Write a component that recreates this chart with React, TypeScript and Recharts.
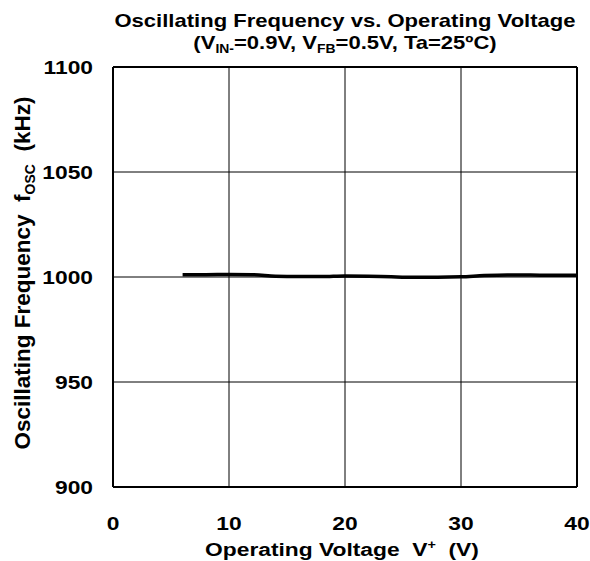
import { CartesianGrid, Line, LineChart, XAxis, YAxis } from "recharts";

const voltage = [6, 8, 10, 12, 14, 16, 18, 20, 22, 24, 26, 28, 30, 32, 34, 36, 38, 40];
const freq = [1001.1, 1001.1, 1001.2, 1001.1, 1000.4, 1000.2, 1000.2, 1000.5, 1000.4, 1000.1, 999.9, 999.9, 1000.1, 1000.7, 1001.0, 1000.9, 1000.8, 1000.8];
const xTicks = [0, 10, 20, 30, 40];
const yTicks = [900, 950, 1000, 1050, 1100];

const data = voltage.map((v, i) => ({ v, f: freq[i] }));

const font = "'Liberation Sans', Arial, sans-serif";
const SX = 1.2; // the reference text is stretched sideways
const FS = 19;
const SUB = 12;

const stretch = (x: number, y: number, s = SX) => `translate(${x} ${y}) scale(${s} 1)`;

const XTick = (props: any) => {
  const { x, y, payload } = props;
  return (
    <text transform={stretch(x, y + 35)} textAnchor="middle" fontSize={FS} fontWeight="bold" fontFamily={font} fill="#000">
      {payload.value}
    </text>
  );
};

const YTick = (props: any) => {
  const { y, payload } = props;
  return (
    <text transform={stretch(93, y + 7)} textAnchor="end" fontSize={FS} fontWeight="bold" fontFamily={font} fill="#000">
      {payload.value}
    </text>
  );
};

export default function App() {
  return (
    <div style={{ position: "absolute", left: 0, top: 0, width: 590, height: 561, background: "#fff", fontFamily: font }}>
      <LineChart width={590} height={561} data={data} margin={{ top: 67, right: 13, left: 0, bottom: 0 }}>
        <text transform={stretch(345, 27, 1.16)} textAnchor="middle" fontSize={FS} fontWeight="bold" fontFamily={font} fill="#000">
          Oscillating Frequency vs. Operating Voltage
        </text>
        <text transform={stretch(345, 49, 1.16)} textAnchor="middle" fontSize={FS} fontWeight="bold" fontFamily={font} fill="#000">
          <tspan>(V</tspan>
          <tspan fontSize={SUB} dy={4}>IN-</tspan>
          <tspan dy={-4}>=0.9V, V</tspan>
          <tspan fontSize={SUB} dy={4}>FB</tspan>
          <tspan dy={-4}>=0.5V, Ta=25ºC)</tspan>
        </text>
        <text transform={stretch(342, 556)} textAnchor="middle" fontSize={FS} fontWeight="bold" fontFamily={font} fill="#000">
          <tspan>{"Operating Voltage\u00A0\u00A0V"}</tspan>
          <tspan fontSize={SUB} dy={-7}>+</tspan>
          <tspan dy={7}>{"\u00A0\u00A0(V)"}</tspan>
        </text>
        <text
          transform="translate(30 273) rotate(-90)"
          textAnchor="middle"
          fontSize={22.5}
          fontWeight="bold"
          fontFamily={font}
          fill="#000"
        >
          <tspan>{"Oscillating Frequency\u00A0\u00A0f"}</tspan>
          <tspan fontSize={14} dy={5}>OSC</tspan>
          <tspan dy={-5}>{"\u00A0\u00A0(kHz)"}</tspan>
        </text>
        <CartesianGrid stroke="#000" strokeWidth={1} />
        <XAxis
          dataKey="v"
          type="number"
          domain={[0, 40]}
          ticks={xTicks}
          height={74}
          tickLine={false}
          axisLine={{ stroke: "#000", strokeWidth: 2 }}
          tick={XTick}
          interval={0}
        />
        <YAxis
          type="number"
          domain={[900, 1100]}
          ticks={yTicks}
          width={113}
          tickLine={false}
          axisLine={{ stroke: "#000", strokeWidth: 2 }}
          tick={YTick}
          interval={0}
        />
        <Line type="monotone" dataKey="f" stroke="#000" strokeWidth={3.5} dot={false} isAnimationActive={false} />
        <line x1={113} y1={67} x2={577} y2={67} stroke="#000" strokeWidth={2} />
        <line x1={577} y1={67} x2={577} y2={487} stroke="#000" strokeWidth={2} />
      </LineChart>
    </div>
  );
}
